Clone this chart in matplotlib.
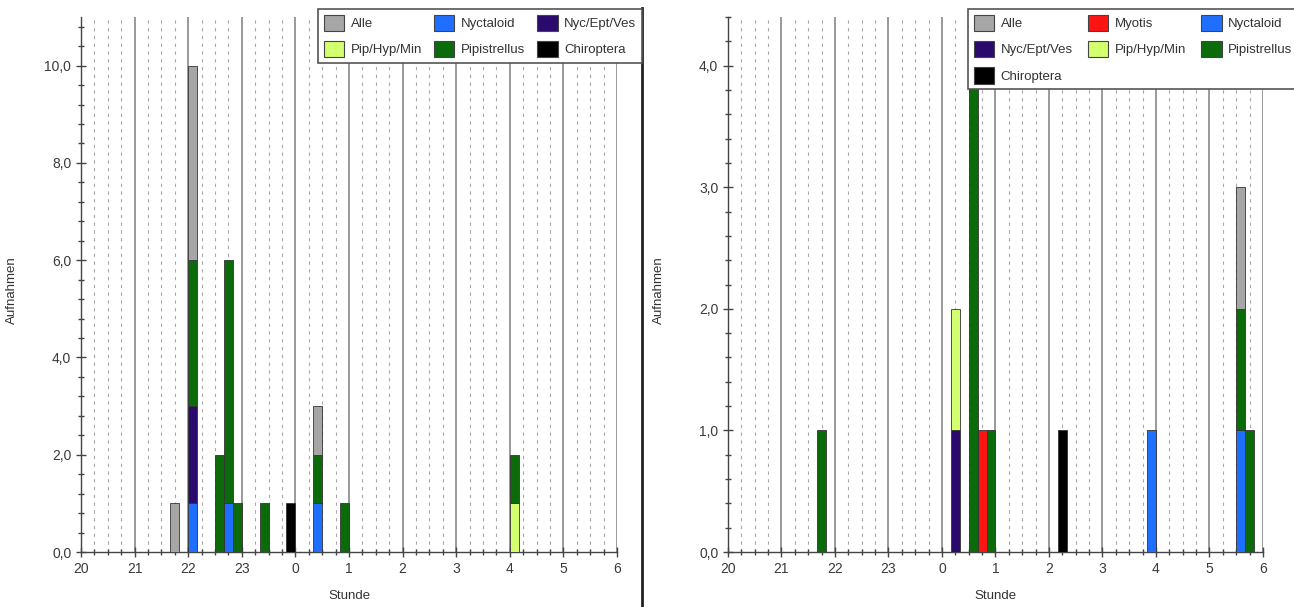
import matplotlib
matplotlib.use("Agg")
import matplotlib.pyplot as plt
from matplotlib.patches import Patch
from matplotlib.lines import Line2D
from matplotlib.ticker import FixedLocator, MultipleLocator, FuncFormatter

plt.rcParams['font.family'] = ['Liberation Sans', 'DejaVu Sans']

# ---------------------------------------------------------------
# data: 10-minute bins (start time), counts per group
# ---------------------------------------------------------------
hour_labels = ['20', '21', '22', '23', '0', '1', '2', '3', '4', '5', '6']

left_bins = ['21:40', '22:00', '22:30', '22:40', '22:50', '23:20', '23:50', '00:20', '00:50', '04:00']
left_nyctaloid = [0, 1, 0, 1, 0, 0, 0, 1, 0, 0]
left_myotis = [0, 0, 0, 0, 0, 0, 0, 0, 0, 0]
left_nycepves = [0, 2, 0, 0, 0, 0, 0, 0, 0, 0]
left_piphypmin = [0, 0, 0, 0, 0, 0, 0, 0, 0, 1]
left_pipistrellus = [0, 3, 2, 5, 1, 1, 0, 1, 1, 1]
left_chiroptera = [0, 0, 0, 0, 0, 0, 1, 0, 0, 0]
left_alle = [1, 4, 0, 0, 0, 0, 0, 1, 0, 0]

right_bins = ['21:40', '00:10', '00:30', '00:40', '00:50', '02:10', '03:50', '05:30', '05:40']
right_nyctaloid = [0, 0, 0, 0, 0, 0, 1, 1, 0]
right_myotis = [0, 0, 0, 1, 0, 0, 0, 0, 0]
right_nycepves = [0, 1, 0, 0, 0, 0, 0, 0, 0]
right_piphypmin = [0, 1, 0, 0, 0, 0, 0, 0, 0]
right_pipistrellus = [1, 0, 4, 0, 1, 0, 0, 1, 1]
right_chiroptera = [0, 0, 0, 0, 0, 1, 0, 0, 0]
right_alle = [0, 0, 0, 0, 0, 0, 0, 1, 0]

colors = {
    'Alle': '#a6a6a6',
    'Myotis': '#ff1414',
    'Nyctaloid': '#1f6fff',
    'Nyc/Ept/Ves': '#2b0a6e',
    'Pip/Hyp/Min': '#d4ff6e',
    'Pipistrellus': '#0b6b0b',
    'Chiroptera': '#000000',
}


def hours_after_20(t):
    h, m = map(int, t.split(':'))
    return (h - 20) % 24 + m / 60


def draw_panel(ax, bins, series, ymax, ymajor, yminor):
    x = [hours_after_20(t) for t in bins]
    # grid: hour lines and quarter-hour dashed lines
    for h in range(1, 11):
        ax.axvline(h, color='#9a9a9a', lw=1.4, zorder=1)
    for h in range(10):
        for q in (0.25, 0.5, 0.75):
            ax.axvline(h + q, color='#a8a8a8', lw=0.8, ls=(0, (3, 4)), zorder=1)

    bottom = [0] * len(x)
    for name, vals in series:
        for i, v in enumerate(vals):
            if v > 0:
                ax.bar(x[i], v, width=1 / 6, bottom=bottom[i], align='edge',
                       color=colors[name], edgecolor='#333333', lw=0.6, zorder=3)
                bottom[i] += v

    ax.set_xlim(0, 10)
    ax.set_ylim(0, ymax)
    ax.xaxis.set_major_locator(FixedLocator(range(11)))
    ax.set_xticklabels(hour_labels)
    ax.xaxis.set_minor_locator(MultipleLocator(0.25))
    ax.yaxis.set_major_locator(MultipleLocator(ymajor))
    ax.yaxis.set_minor_locator(MultipleLocator(yminor))
    ax.yaxis.set_major_formatter(FuncFormatter(lambda v, p: f'{v:.1f}'.replace('.', ',')))
    ax.tick_params(which='major', direction='inout', length=7, width=1, color='#444444',
                   labelsize=10, labelcolor='#3a3a3a')
    ax.tick_params(which='minor', direction='inout', length=5, width=1, color='#444444')
    for s in ('top', 'right'):
        ax.spines[s].set_visible(False)
    for s in ('left', 'bottom'):
        ax.spines[s].set_color('#444444')
        ax.spines[s].set_linewidth(1)
    ax.set_xlabel('Stunde', fontsize=9.5, color='#333333')
    ax.set_ylabel('Aufnahmen', fontsize=9.5, color='#333333')
    ax.xaxis.set_label_coords(0.5, -0.071)
    ax.yaxis.set_label_coords(-0.118, 0.49)


W, H = 1294, 607
fig = plt.figure(figsize=(W / 100, H / 100), dpi=100)
ax1 = fig.add_axes([81 / W, 1 - 552 / H, 536 / W, 535 / H])
ax2 = fig.add_axes([728 / W, 1 - 552 / H, 535 / W, 535 / H])

draw_panel(ax1, left_bins, [
    ('Nyctaloid', left_nyctaloid), ('Myotis', left_myotis), ('Nyc/Ept/Ves', left_nycepves),
    ('Pip/Hyp/Min', left_piphypmin), ('Pipistrellus', left_pipistrellus),
    ('Chiroptera', left_chiroptera), ('Alle', left_alle)], 11, 2, 0.4)
draw_panel(ax2, right_bins, [
    ('Nyctaloid', right_nyctaloid), ('Myotis', right_myotis), ('Nyc/Ept/Ves', right_nycepves),
    ('Pip/Hyp/Min', right_piphypmin), ('Pipistrellus', right_pipistrellus),
    ('Chiroptera', right_chiroptera), ('Alle', right_alle)], 4.4, 1, 0.2)


def make_legend(names, x0, x1, y_top):
    handles = [Patch(facecolor=colors[n], edgecolor='#444444', lw=0.8) for n in names]
    leg = fig.legend(handles, names, loc='upper left',
                     bbox_to_anchor=(x0 / W, 1 - y_top / H - 0.01, (x1 - x0) / W, 0.01),
                     mode='expand', ncol=3, fontsize=9.5, frameon=True, fancybox=False,
                     borderaxespad=0, borderpad=0.42, labelspacing=0.74,
                     handlelength=1.55, handleheight=1.55, handletextpad=0.5,
                     columnspacing=0.8)
    leg.get_frame().set_edgecolor('#555555')
    leg.get_frame().set_linewidth(1.2)
    leg.get_frame().set_alpha(1)
    leg.set_zorder(10)
    for t in leg.get_texts():
        t.set_color('#333333')


# column-major order so rows read as in the original
make_legend(['Alle', 'Pip/Hyp/Min', 'Nyctaloid', 'Pipistrellus', 'Nyc/Ept/Ves', 'Chiroptera'],
            318, 642, 9)
make_legend(['Alle', 'Nyc/Ept/Ves', 'Chiroptera', 'Myotis', 'Pip/Hyp/Min', 'Nyctaloid', 'Pipistrellus'],
            968, 1298, 9)

fig.add_artist(Line2D([642 / W, 642 / W], [0, 1 - 8 / H], transform=fig.transFigure,
                      color='#222222', lw=2))

fig.savefig('out.png', dpi=100)
